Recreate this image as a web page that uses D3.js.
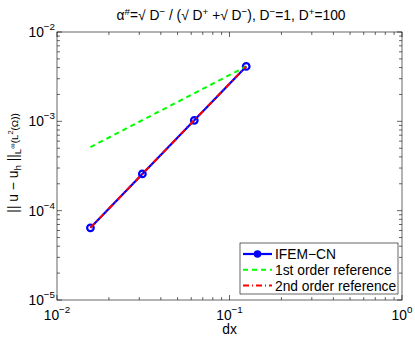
<!DOCTYPE html>
<head>
  <meta charset="utf-8">
  <script src="https://d3js.org/d3.v7.min.js"></script>
  <style>
    body { margin: 0; background: #fff; font-family: "Liberation Sans", Arial, sans-serif; }
    text { fill: #000; }
  </style>
</head>
<body>
  <div id="chart"></div>
  <script>
    // mesh sizes and errors
    var dx = [1/64, 1/32, 1/16, 1/8];
    var errIfem = [6.42e-5, 2.58e-4, 1.026e-3, 4.12e-3];
    var ref1 = [5.15e-4, 1.03e-3, 2.06e-3, 4.12e-3];
    var ref2 = [6.44e-5, 2.575e-4, 1.03e-3, 4.12e-3];
    var xTicks = [1e-2, 1e-1, 1e0];
    var yTicks = [1e-5, 1e-4, 1e-3, 1e-2];
    var legendLabels = ["IFEM\u2212CN", "1st order reference", "2nd order reference"];

    var width = 415, height = 338;
    var m = { left: 57, right: 13, top: 32, bottom: 38 };
    var fs = 13.8, sup = 9.8;

    var svg = d3.select("#chart").append("svg")
      .attr("width", width)
      .attr("height", height);

    var x = d3.scaleLog().domain([1e-2, 1]).range([m.left, width - m.right]);
    var y = d3.scaleLog().domain([1e-5, 1e-2]).range([height - m.bottom, m.top]);

    var x0 = x.range()[0], x1 = x.range()[1], y0 = y.range()[0], y1 = y.range()[1];

    // box + ticks on all four sides (inward)
    var axes = svg.append("g").attr("stroke", "#000").attr("stroke-width", 0.6);
    axes.append("rect")
      .attr("x", x0).attr("y", y1)
      .attr("width", x1 - x0).attr("height", y0 - y1)
      .attr("fill", "none");

    function minors(lo, hi) {
      var out = [];
      for (var e = lo; e < hi; e++)
        for (var k = 1; k < 10; k++) out.push(k * Math.pow(10, e));
      out.push(Math.pow(10, hi));
      return out;
    }
    minors(-2, 0).forEach(function(v) {
      var len = (Math.abs(Math.log10(v) - Math.round(Math.log10(v))) < 1e-9) ? 5 : 3;
      var px = x(v);
      axes.append("line").attr("x1", px).attr("x2", px).attr("y1", y0).attr("y2", y0 - len);
      axes.append("line").attr("x1", px).attr("x2", px).attr("y1", y1).attr("y2", y1 + len);
    });
    minors(-5, -2).forEach(function(v) {
      var len = (Math.abs(Math.log10(v) - Math.round(Math.log10(v))) < 1e-9) ? 5 : 3;
      var py = y(v);
      axes.append("line").attr("y1", py).attr("y2", py).attr("x1", x0).attr("x2", x0 + len);
      axes.append("line").attr("y1", py).attr("y2", py).attr("x1", x1).attr("x2", x1 - len);
    });

    // tick labels as 10^n
    function pow10(sel, v) {
      var e = Math.round(Math.log10(v));
      sel.append("tspan").text("10");
      sel.append("tspan").attr("dy", -7).attr("font-size", sup).text(e < 0 ? "\u2212" + (-e) : e);
    }
    xTicks.forEach(function(v) {
      var t = svg.append("text")
        .attr("x", x(v)).attr("y", y0 + 20)
        .attr("text-anchor", "middle").attr("font-size", fs);
      pow10(t, v);
    });
    yTicks.forEach(function(v) {
      var t = svg.append("text")
        .attr("x", x0 - 2).attr("y", y(v) + 5)
        .attr("text-anchor", "end").attr("font-size", fs);
      pow10(t, v);
    });

    // x label
    svg.append("text").attr("x", (x0 + x1) / 2).attr("y", y0 + 34)
      .attr("text-anchor", "middle").attr("font-size", fs).text("dx");

    // y label
    var yl = svg.append("text")
      .attr("transform", "translate(18,163) rotate(-90)")
      .attr("text-anchor", "middle").attr("font-size", fs);
    yl.append("tspan").text("|| u \u2212 u");
    yl.append("tspan").attr("dy", 3).attr("font-size", sup).text("h");
    yl.append("tspan").attr("dy", -3).text("  ||");
    yl.append("tspan").attr("dy", 3).attr("font-size", sup).text("L");
    yl.append("tspan").attr("dy", -6).attr("font-size", 7.5).text("\u221E");
    yl.append("tspan").attr("dy", 3).attr("font-size", sup).text("(L");
    yl.append("tspan").attr("dy", -5).attr("font-size", 7.5).text("2");
    yl.append("tspan").attr("dy", 5).attr("font-size", sup).text("(\u03A9))");

    // title
    var tt = svg.append("text").attr("x", 231).attr("y", 20)
      .attr("text-anchor", "middle").attr("font-size", fs);
    tt.append("tspan").text("\u03B1");
    tt.append("tspan").attr("dy", -5).attr("font-size", sup).text("#");
    tt.append("tspan").attr("dy", 5).text("=\u221A D");
    tt.append("tspan").attr("dy", -5).attr("font-size", sup).text("\u2212");
    tt.append("tspan").attr("dy", 5).text(" / (\u221A D");
    tt.append("tspan").attr("dy", -5).attr("font-size", sup).text("+");
    tt.append("tspan").attr("dy", 5).text(" +\u221A D");
    tt.append("tspan").attr("dy", -5).attr("font-size", sup).text("\u2212");
    tt.append("tspan").attr("dy", 5).text("), D");
    tt.append("tspan").attr("dy", -5).attr("font-size", sup).text("\u2212");
    tt.append("tspan").attr("dy", 5).text("=1, D");
    tt.append("tspan").attr("dy", -5).attr("font-size", sup).text("+");
    tt.append("tspan").attr("dy", 5).text("=100");

    // series
    var line = d3.line().x(function(d) { return x(d[0]); }).y(function(d) { return y(d[1]); });
    var plot = svg.append("g");
    plot.append("path").datum(d3.zip(dx, errIfem)).attr("d", line)
      .attr("fill", "none").attr("stroke", "#0000ff").attr("stroke-width", 2.2);
    plot.selectAll("circle").data(d3.zip(dx, errIfem)).enter().append("circle")
      .attr("cx", function(d) { return x(d[0]); })
      .attr("cy", function(d) { return y(d[1]); })
      .attr("r", 3.3).attr("fill", "none").attr("stroke", "#0000ff").attr("stroke-width", 2.2);
    plot.append("path").datum([[dx[0], ref1[0]], [dx[3], ref1[3]]]).attr("d", line)
      .attr("fill", "none").attr("stroke", "#00ff00").attr("stroke-width", 2)
      .attr("stroke-dasharray", "5,4");
    plot.append("path").datum(d3.zip(dx, ref2)).attr("d", line)
      .attr("fill", "none").attr("stroke", "#ff0000").attr("stroke-width", 2)
      .attr("stroke-dasharray", "6,3,1,3");

    // legend
    var lg = svg.append("g");
    var lx = 240, ly = 243, lw = 158, lh = 51;
    lg.append("rect").attr("x", lx).attr("y", ly).attr("width", lw).attr("height", lh)
      .attr("fill", "#fff").attr("stroke", "#000").attr("stroke-width", 0.6);
    var styles = [
      { c: "#0000ff", w: 2.2, dash: null },
      { c: "#00ff00", w: 2, dash: "5,4" },
      { c: "#ff0000", w: 2, dash: "6,3,1,3" }
    ];
    legendLabels.forEach(function(lab, i) {
      var yy = ly + 11 + i * 15.8;
      var l = lg.append("line").attr("x1", lx + 3).attr("x2", lx + 32).attr("y1", yy).attr("y2", yy)
        .attr("stroke", styles[i].c).attr("stroke-width", styles[i].w);
      if (styles[i].dash) l.attr("stroke-dasharray", styles[i].dash);
      if (i === 0) lg.append("circle").attr("cx", lx + 17.5).attr("cy", yy).attr("r", 3)
        .attr("fill", "#0000ff").attr("stroke", "#0000ff").attr("stroke-width", 1.5);
      lg.append("text").attr("x", lx + 35).attr("y", yy + 5).attr("font-size", fs).text(lab);
    });
  </script>
</body>
